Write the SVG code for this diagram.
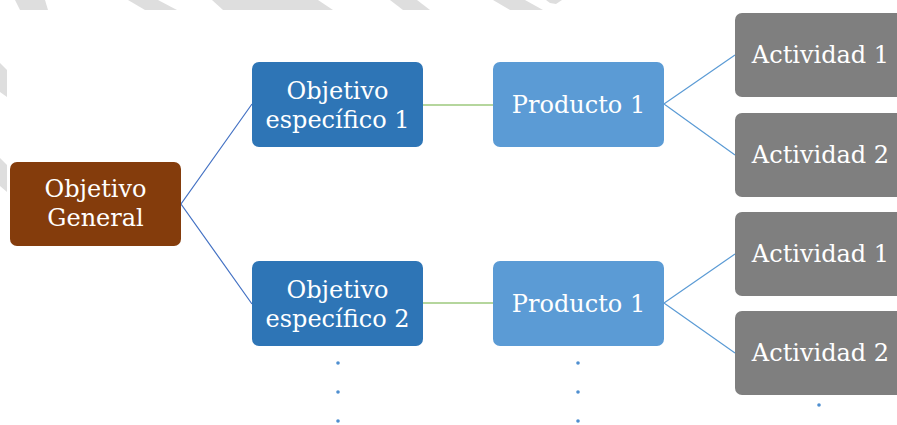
<svg xmlns="http://www.w3.org/2000/svg" width="897" height="425" viewBox="0 0 897 425">
<style>
.bg{fill:#dedede}
.n{stroke:none}
.og{fill:#843c0c}
.oe{fill:#2e75b6}
.pr{fill:#5b9bd5}
.ac{fill:#7f7f7f}
.t{font-family:"DejaVu Serif","Liberation Serif",serif;font-size:24px;fill:#ffffff;text-anchor:middle}
.l1{stroke:#4472c4;stroke-width:1.2;fill:none}
.l2{stroke:#9cc97c;stroke-width:1.6;fill:none}
.l3{stroke:#5b9bd5;stroke-width:1.2;fill:none}
.dot{fill:#4f8fd0}
</style>
<rect width="897" height="425" fill="#ffffff"/>
<g id="background">
<polygon class="bg" points="15,0 45,0 48,10 20,10"/>
<polygon class="bg" points="128,0 158,0 177,10 145,10"/>
<polygon class="bg" points="212,0 318,0 333,10 223,10"/>
<polygon class="bg" points="390,0 417,0 430,10 403,10"/>
<polygon class="bg" points="493,0 525,0 543,10 510,10"/>
<polygon class="bg" points="546,0 562,0 556,4 550,3"/>
<polygon class="bg" points="0,63 7,70 7,97 0,92"/>
<polygon class="bg" points="0,158 7,165 7,192 0,186"/>
</g>
<g id="connectors">
<polyline class="l1" points="252,104 181,204 252,304"/>
<line class="l2" x1="423" y1="105" x2="493" y2="105"/>
<line class="l2" x1="423" y1="303" x2="493" y2="303"/>
<polyline class="l3" points="735,55 664,104 735,155"/>
<polyline class="l3" points="735,254 664,303 735,353"/>
</g>
<g id="node-objetivo-general">
<rect class="n og" x="10" y="162" width="171" height="84" rx="7"/>
<text class="t" x="95.5" y="197">Objetivo</text>
<text class="t" x="95.5" y="226">General</text>
</g>
<g id="node-objetivo-especifico-1">
<rect class="n oe" x="252" y="62" width="171" height="85" rx="7"/>
<text class="t" x="337.5" y="99">Objetivo</text>
<text class="t" x="337.5" y="128">específico 1</text>
</g>
<g id="node-producto-1a">
<rect class="n pr" x="493" y="62" width="171" height="85" rx="7"/>
<text class="t" x="578.5" y="113">Producto 1</text>
</g>
<g id="node-actividad-1a">
<rect class="n ac" x="735" y="13" width="171" height="84" rx="7"/>
<text class="t" x="820.5" y="63">Actividad 1</text>
</g>
<g id="node-actividad-2a">
<rect class="n ac" x="735" y="113" width="171" height="84" rx="7"/>
<text class="t" x="820.5" y="163">Actividad 2</text>
</g>
<g id="node-objetivo-especifico-2">
<rect class="n oe" x="252" y="261" width="171" height="85" rx="7"/>
<text class="t" x="337.5" y="298">Objetivo</text>
<text class="t" x="337.5" y="327">específico 2</text>
</g>
<g id="node-producto-1b">
<rect class="n pr" x="493" y="261" width="171" height="85" rx="7"/>
<text class="t" x="578.5" y="312">Producto 1</text>
</g>
<g id="node-actividad-1b">
<rect class="n ac" x="735" y="212" width="171" height="84" rx="7"/>
<text class="t" x="820.5" y="262">Actividad 1</text>
</g>
<g id="node-actividad-2b">
<rect class="n ac" x="735" y="311" width="171" height="84" rx="7"/>
<text class="t" x="820.5" y="361">Actividad 2</text>
</g>
<g id="dots">
<circle class="dot" cx="338" cy="363" r="1.8"/>
<circle class="dot" cx="338" cy="392" r="1.8"/>
<circle class="dot" cx="338" cy="421" r="1.8"/>
<circle class="dot" cx="578" cy="363" r="1.8"/>
<circle class="dot" cx="578" cy="392" r="1.8"/>
<circle class="dot" cx="578" cy="421" r="1.8"/>
<circle class="dot" cx="819" cy="405" r="1.8"/>
</g>
</svg>
